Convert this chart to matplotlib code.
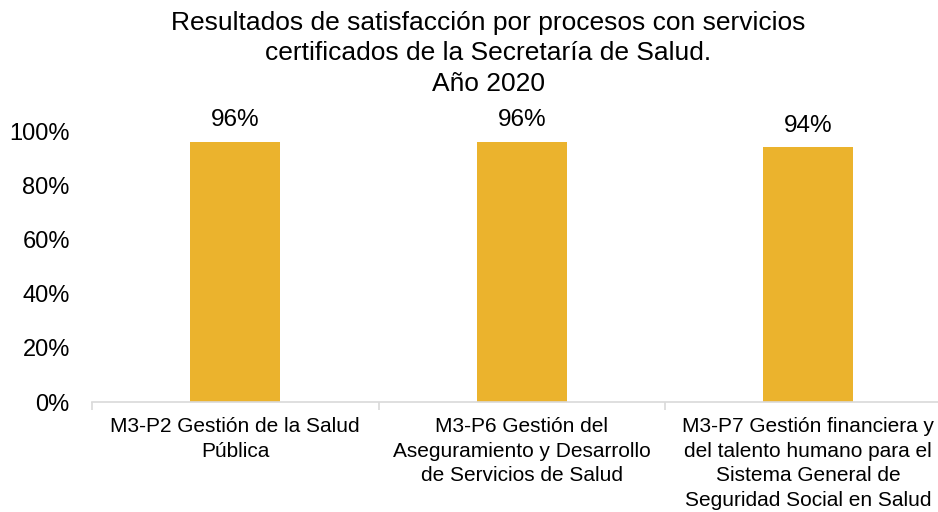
import numpy as np
import matplotlib.pyplot as plt

plt.rcParams['font.family'] = ['Liberation Sans', 'DejaVu Sans']

# Data
categorias = [
    'M3-P2 Gestión de la Salud\nPública',
    'M3-P6 Gestión del\nAseguramiento y Desarrollo\nde Servicios de Salud',
    'M3-P7 Gestión financiera y\ndel talento humano para el\nSistema General de\nSeguridad Social en Salud',
]
satisfaccion = [0.96, 0.96, 0.94]
etiquetas = ['96%', '96%', '94%']
yticks = [0, 0.2, 0.4, 0.6, 0.8, 1.0]

fig = plt.figure(figsize=(9.38, 5.12), dpi=100)
ax = fig.add_axes([0.0981, 0.2148, 0.9163, 0.529])

x = np.arange(len(categorias))
bars = ax.bar(x, satisfaccion, width=0.314, color='#EBB32D')

for xi, v, lab in zip(x, satisfaccion, etiquetas):
    ax.text(xi, v + 0.04, lab, ha='center', va='bottom', fontsize=17.5,
            color='#000000', clip_on=False)

ax.set_xlim(-0.5, len(categorias) - 0.5)
ax.set_ylim(0, 1.0)
ax.set_yticks(yticks)
ax.set_yticklabels([f'{int(round(t * 100))}%' for t in yticks], fontsize=17)
ax.tick_params(axis='y', length=0, pad=16)

ax.set_xticks(x)
ax.set_xticklabels(categorias, fontsize=15, linespacing=1.36)
ax.tick_params(axis='x', which='major', length=0, pad=11)
ax.set_xticks(np.arange(-0.5, len(categorias)), minor=True)
ax.tick_params(axis='x', which='minor', length=6, color='#d9d9d9', width=1.2)

for s in ['top', 'right', 'left']:
    ax.spines[s].set_visible(False)
ax.spines['bottom'].set_color('#d9d9d9')
ax.spines['bottom'].set_linewidth(1.2)

fig.text(488 / 938, 1 - 11 / 512,
         'Resultados de satisfacción por procesos con servicios\n'
         'certificados de la Secretaría de Salud.\nAño 2020',
         ha='center', va='top', fontsize=19, linespacing=1.33)

fig.savefig('out.png', dpi=100)
